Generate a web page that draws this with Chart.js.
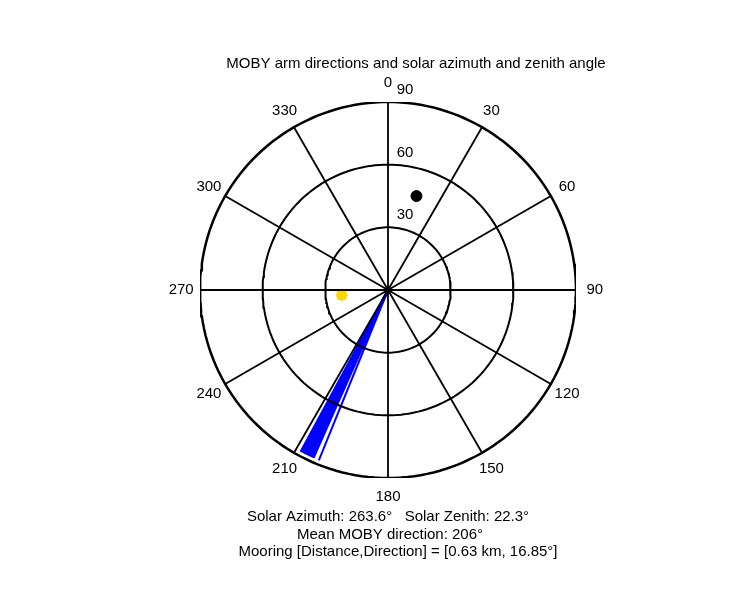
<!DOCTYPE html>
<html><head><meta charset="utf-8">
<script src="https://cdn.jsdelivr.net/npm/chart.js@4"></script>
<style>html,body{margin:0;background:#fff}#wrap{width:750px;height:600px}</style>
</head><body><div id="wrap"><canvas id="c" width="750" height="600"></canvas></div>
<script>
const ringValues=[30,60,90];
const spokeAngles=[0,30,60,90,120,150,180,210,240,270,300,330];
const armDirections=[202.1,203.9,204.3,204.8,205.2,205.6,206.0,206.4,206.9,207.3,207.7,208.1,208.4];
const armZenith=88;
const sunAz=263.6, sunZen=22.3;
const mooringAz=16.85, mooringZen=47;
function pt(az,r){const a=az*Math.PI/180;return {x:r*Math.sin(a),y:r*Math.cos(a)};}
const ds=[];
ringValues.forEach((r,i)=>{const d=[];for(let a=0;a<=360;a+=2)d.push(pt(a,r));
 ds.push({data:d,showLine:true,borderColor:'#000',borderWidth:i==2?2.5:2,pointRadius:0,tension:0});});
spokeAngles.forEach(a=>ds.push({data:[pt(0,0),pt(a,90)],showLine:true,borderColor:'#000',borderWidth:1.8,pointRadius:0}));
armDirections.forEach(a=>ds.push({data:[pt(0,0),pt(a,armZenith)],showLine:true,borderColor:'#0000ff',borderWidth:2,pointRadius:0}));
ds.push({data:[pt(sunAz,sunZen)],pointRadius:6,pointStyle:'star',borderColor:'#ffd700',borderWidth:2,backgroundColor:'#ffd700',showLine:false});
ds.push({data:[pt(sunAz,sunZen)],pointRadius:5,backgroundColor:'#ffd700',borderColor:'#ffd700',showLine:false});
ds.push({data:[pt(mooringAz,mooringZen)],pointRadius:5.5,backgroundColor:'#000',borderColor:'#000',showLine:false});
const labels={id:'labels',afterDraw(ch){const c=ch.ctx,xs=ch.scales.x,ys=ch.scales.y;
 c.save();c.fillStyle='#000';c.font='15px "Liberation Sans", Arial';c.textAlign='center';c.textBaseline='middle';
 spokeAngles.forEach(a=>{const p=pt(a,99);c.fillText(String(a),xs.getPixelForValue(p.x),ys.getPixelForValue(p.y));});
 const cx=xs.getPixelForValue(0);
 ringValues.forEach(r=>{c.fillText(String(r),cx+17,ys.getPixelForValue(r)-12);});
 c.fillText('MOBY arm directions and solar azimuth and zenith angle',416,64);
 c.fillText('Solar Azimuth: 263.6°   Solar Zenith: 22.3°',388,517);
 c.fillText('Mean MOBY direction: 206°',390,535);
 c.fillText('Mooring [Distance,Direction] = [0.63 km, 16.85°]',398,552);
 c.restore();}};
new Chart(document.getElementById('c'),{type:'scatter',data:{datasets:ds},
 options:{responsive:false,animation:false,events:[],
  layout:{padding:{left:200,right:174,top:102,bottom:122}},
  plugins:{legend:{display:false},tooltip:{enabled:false}},
  scales:{x:{type:'linear',min:-90,max:90,display:false},y:{type:'linear',min:-90,max:90,display:false}}},
 plugins:[labels]});
</script></body></html>
